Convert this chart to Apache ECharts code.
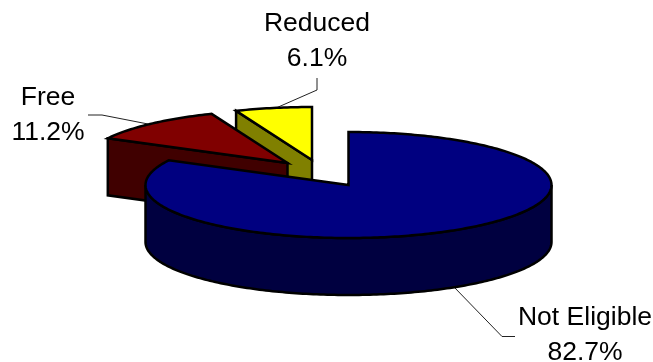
<!DOCTYPE html>
<html>
<head>
<meta charset="utf-8">
<style>html,body{margin:0;padding:0;background:#fff}#chart{width:653px;height:362px}</style>
<script src="https://cdn.jsdelivr.net/npm/echarts@6/dist/echarts.min.js"></script>
</head>
<body>
<div id="chart"></div>
<script>
// Meal eligibility shares, clockwise from twelve o'clock
const categories = ['Not Eligible', 'Free', 'Reduced'];
const shares = [82.7, 11.2, 6.1];
const shareLabels = ['82.7%', '11.2%', '6.1%'];

// Projection of the tilted disc
const RX = 203, RY = 53, DEPTH = 57;

// Per-slice look: apex of the (possibly pulled out) wedge, colours, label and leader
const sliceStyle = [
  { apex: [348.5, 185], top: '#000080', side: '#000040',
    label: [585, 335], leader: [[454, 287], [502, 336.5], [515, 336.5]] },
  { apex: [287.5, 163], top: '#800000', side: '#400000',
    label: [48, 115.5], leader: [[148, 124], [102, 115], [88, 115]] },
  { apex: [312, 160], top: '#ffff00', side: '#808000',
    label: [317, 41], leader: [[276, 108], [317, 90], [317, 78]] }
];

const total = shares.reduce((a, b) => a + b, 0);
const startAngles = [];
shares.reduce((acc, v, i) => { startAngles[i] = acc; return acc + v / total * 360; }, 0);

function rimPoint(c, deg, drop) {
  const t = deg * Math.PI / 180;
  return [c[0] + RX * Math.sin(t), c[1] - RY * Math.cos(t) + (drop || 0)];
}
function arc(c, from, to, drop) {
  const pts = [];
  const n = Math.max(2, Math.ceil(Math.abs(to - from)));
  for (let i = 0; i <= n; i++) pts.push(rimPoint(c, from + (to - from) * i / n, drop));
  return pts;
}

const edge = { stroke: '#000', lineWidth: 2.5, lineJoin: 'miter' };

function renderSlice(params, api) {
  const i = api.value(0);
  const s = sliceStyle[i];
  const from = startAngles[i];
  const to = from + api.value(1) / total * 360;
  const c = s.apex;
  const kids = [];

  // Leader line sits under the wedge
  kids.push({ type: 'polyline', shape: { points: s.leader },
    style: { stroke: '#222', lineWidth: 1, fill: null } });

  // Cut face along the trailing radius, only seen when it turns towards the viewer
  if (from > 180) {
    const rim = rimPoint(c, from);
    kids.push({ type: 'polygon',
      shape: { points: [rim, c, [c[0], c[1] + DEPTH], [rim[0], rim[1] + DEPTH]] },
      style: Object.assign({ fill: s.side }, edge) });
  }
  // Curved outer wall on the front half of the rim
  const wallFrom = Math.max(from, 90), wallTo = Math.min(to, 270);
  if (wallTo > wallFrom) {
    const front = arc(c, wallFrom, wallTo, 0);
    const back = arc(c, wallTo, wallFrom, DEPTH);
    kids.push({ type: 'polygon', shape: { points: front.concat(back) },
      style: Object.assign({ fill: s.side }, edge) });
  }
  // Top surface
  kids.push({ type: 'polygon', shape: { points: [c].concat(arc(c, from, to, 0)) },
    style: Object.assign({ fill: s.top }, edge) });

  kids.push({ type: 'text', style: {
    x: s.label[0], y: s.label[1], align: 'center', verticalAlign: 'middle',
    text: categories[i] + '\n' + shareLabels[i],
    font: '26.5px "Liberation Sans", Arial, sans-serif', lineHeight: 35, fill: '#000' } });

  return { type: 'group', children: kids };
}

// Farthest wedge first so nearer ones overlap it
const rows = shares.map((v, i) => [i, v]).reverse();

const chart = echarts.init(document.getElementById('chart'), null, { renderer: 'canvas' });
chart.setOption({
  animation: false,
  backgroundColor: '#fff',
  series: [{ type: 'custom', coordinateSystem: 'none', silent: true,
    renderItem: renderSlice, data: rows }]
});
</script>
</body>
</html>
